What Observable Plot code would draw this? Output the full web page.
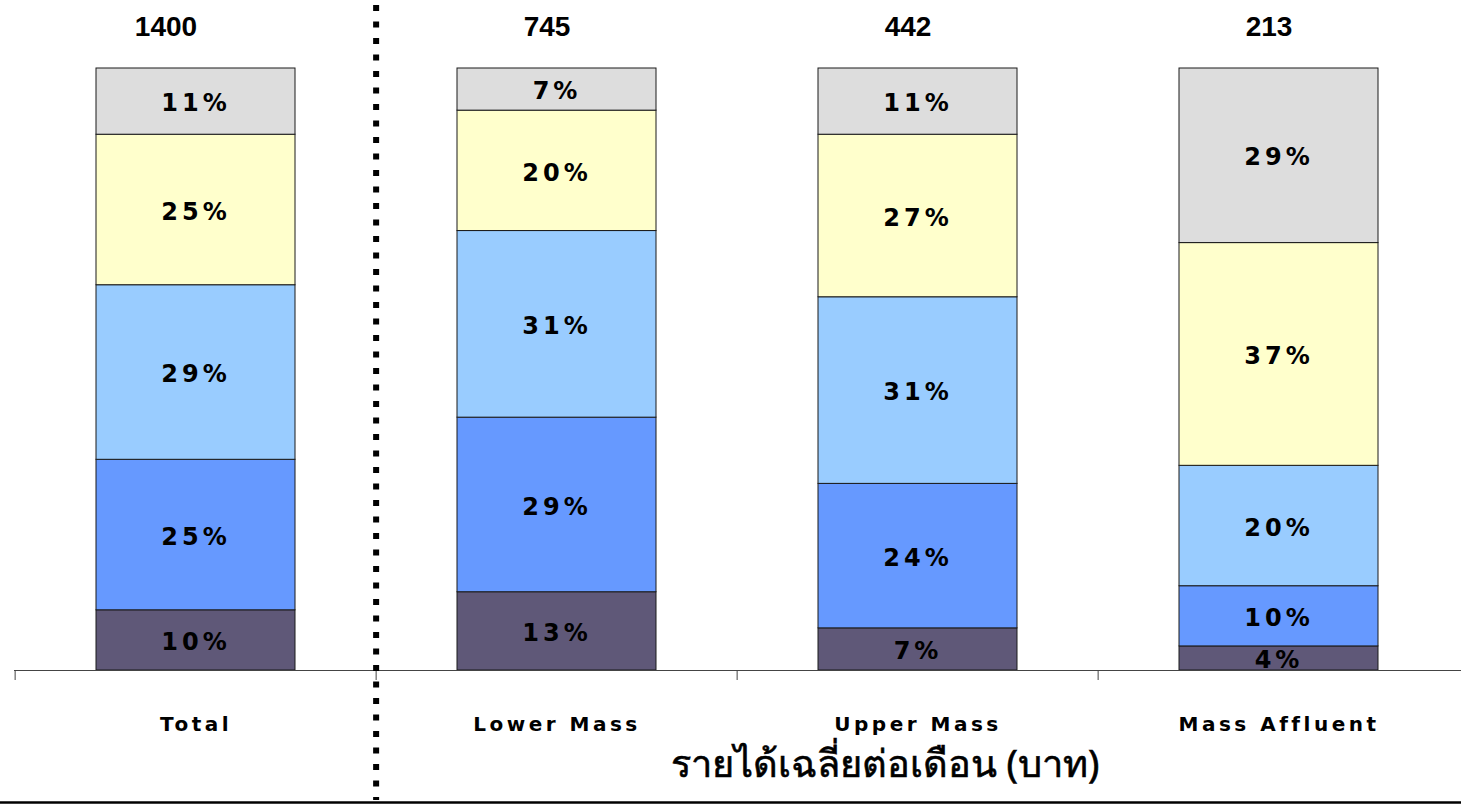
<!DOCTYPE html>
<html>
<head>
<meta charset="utf-8">
<script src="https://cdn.jsdelivr.net/npm/d3@7"></script>
<script src="https://cdn.jsdelivr.net/npm/@observablehq/plot@0.6"></script>
<style>
  html, body { margin: 0; padding: 0; background: #fff; }
  #chart svg { display: block; }
</style>
</head>
<body>
<div id="chart"></div>
<script>
// ---- data ----
const categories = ["Total", "Lower Mass", "Upper Mass", "Mass Affluent"];
const totals = [1400, 745, 442, 213];
// stacked segments, bottom to top (percent)
const seg1 = [10, 13, 7, 4];
const seg2 = [25, 29, 24, 10];
const seg3 = [29, 31, 31, 20];
const seg4 = [25, 20, 27, 37];
const seg5 = [11, 7, 11, 29];
const segNames = ["seg1", "seg2", "seg3", "seg4", "seg5"];
const segColors = ["#5F5878", "#6699FF", "#99CCFF", "#FFFFCC", "#DDDDDD"];
const xTitle = "รายได้เฉลี่ยต่อเดือน (บาท)";

const segValues = [seg1, seg2, seg3, seg4, seg5];
const rows = [];
segNames.forEach((s, j) => categories.forEach((c, i) => rows.push({cat: c, seg: s, value: segValues[j][i]})));
const totalRows = categories.map((c, i) => ({cat: c, total: String(totals[i])}));

const W = 1461, H = 805;
const mL = 14, mR = 0, mT = 68, mB = 135;
const step = (W - mL - mR) / categories.length;

const pctFont = {fontFamily: "DejaVu Sans", fontWeight: "bold", fontSize: 24};
const totFont = {fontFamily: "Liberation Sans", fontWeight: "bold", fontSize: 28, fill: "#000"};

const chart = Plot.plot({
  width: W,
  height: H,
  marginLeft: mL,
  marginRight: mR,
  marginTop: mT,
  marginBottom: mB,
  style: {background: "#fff", overflow: "visible"},
  x: {type: "band", domain: categories, paddingInner: 0.4475, paddingOuter: 0.22375, axis: null},
  y: {domain: [0, 100], axis: null},
  color: {domain: segNames, range: segColors},
  marks: [
    Plot.barY(rows, {x: "cat", y: "value", fill: "seg", stroke: "#1a1a1a", strokeWidth: 1, order: segNames}),
    Plot.text(rows, Plot.stackY({x: "cat", y: "value", z: "seg", order: segNames,
      text: d => d.value + "%", fill: "#000", ...pctFont, dy: 2, className: "pct"})),
    Plot.text(totalRows.slice(0, 1), {x: "cat", y: () => 100, text: "total", dy: -41, dx: -30, ...totFont}),
    Plot.text(totalRows.slice(1), {x: "cat", y: () => 100, text: "total", dy: -41, dx: -10, ...totFont}),
    Plot.ruleY([0], {stroke: "#444", strokeWidth: 1.2}),
    Plot.axisX({tickSize: 10, tickFormat: () => "", dx: -step / 2, stroke: "#444", label: null}),
    Plot.text(categories, {x: d => d, y: () => 0, dy: 54, className: "cat",
      fontFamily: "DejaVu Sans", fontWeight: "bold", fontSize: 20, fill: "#000"}),
    Plot.text([xTitle], {frameAnchor: "bottom", dx: 147, dy: 106, text: d => d,
      fontFamily: "Noto Sans, DejaVu Sans, sans-serif", fontSize: 38, fill: "#000", className: "ttl"}),
    Plot.ruleX(categories.slice(1, 2), {x: d => d, dx: -step / 2, insetTop: -63, insetBottom: -130,
      stroke: "#000", strokeWidth: 6, strokeDasharray: "6,10.5"}),
    Plot.ruleY([0], {dy: 132, insetLeft: -14, stroke: "#000", strokeWidth: 2.5})
  ]
});
document.getElementById("chart").appendChild(chart);
d3.select(chart).selectAll("g.pct text").style("letter-spacing", "4px");
d3.select(chart).selectAll("g.cat text").style("letter-spacing", "3.5px");
d3.select(chart).selectAll("g.ttl text").style("stroke", "#000").style("stroke-width", "0.6px");
</script>
</body>
</html>
